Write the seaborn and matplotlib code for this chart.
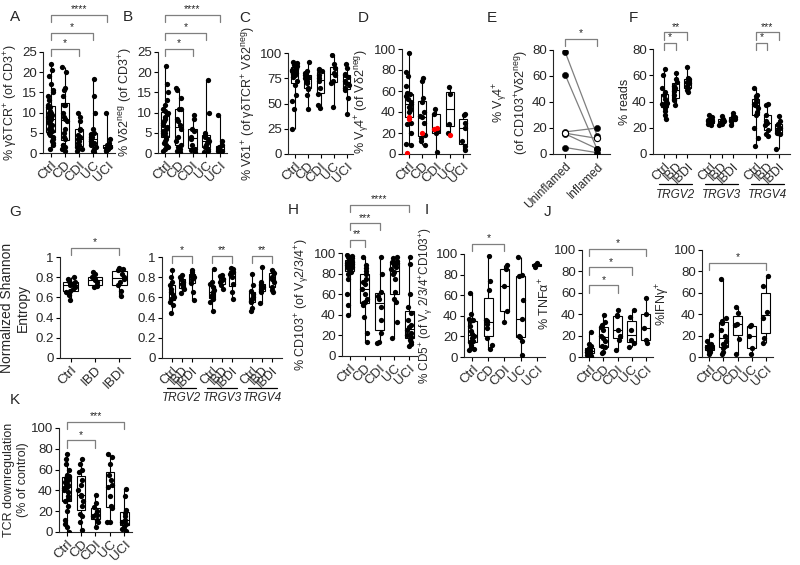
import numpy as np
import pandas as pd
import seaborn as sns
import matplotlib.pyplot as plt

# ---- data ----
dis = ['Ctrl', 'CD', 'CDI', 'UC', 'UCI']
ibd = ['Ctrl', 'IBD', 'IBDI']
genes = ['TRGV2', 'TRGV3', 'TRGV4']

a_gd_tcr = {
    'Ctrl': [22, 20.5, 19, 17, 15.5, 15, 14, 13, 12, 11.5, 11.3, 10.5, 10, 10, 9.5, 9, 9, 8.5, 8, 8,
             7.5, 7, 6.5, 6, 6, 5.5, 5, 5, 4.5, 4, 3.5, 3, 2.5, 2, 1],
    'CD': [21.3, 20, 16, 15.5, 14, 12, 11.8, 10, 9, 8.5, 8, 6, 5, 4, 3.5, 2, 2, 1.5, 1, 0.5],
    'CDI': [10, 9, 8, 6, 5.8, 4.5, 4, 3.5, 3, 2.5, 2, 1.5, 1, 1, 0.5],
    'UC': [18.3, 14, 10, 6, 5, 4.8, 4, 4, 3.5, 3, 3, 2.5, 2, 1.5, 1, 0.5, 0.3],
    'UCI': [10, 3.5, 2.5, 2, 2, 1.8, 1.6, 1.5, 1.4, 1.2, 1.1, 1, 0.8, 0.5],
}
b_vd2neg = {
    'Ctrl': [21.5, 17, 15, 13, 12, 11, 10.5, 10, 9.7, 9, 8.5, 8, 7.5, 7, 6.5, 6, 5.5, 5, 5, 4.5,
             4, 3.5, 3, 2.5, 2, 1.5, 1, 0.5],
    'CD': [16, 15.5, 13.5, 11, 10.8, 8.5, 8, 7, 6, 4, 3, 2, 1.5, 1, 0.5, 0.2],
    'CDI': [9.5, 8.5, 6, 5.5, 4, 3.5, 2, 1, 0.8, 0.3],
    'UC': [18, 10, 5, 4.5, 4, 3.5, 3, 2.5, 2, 1.5, 1, 0.5, 0.2],
    'UCI': [9.3, 3, 2, 1.5, 1.2, 1, 0.8, 0.6, 0.5, 0.4, 0.3],
}
c_vd1 = {
    'Ctrl': [91, 90, 89, 88, 87, 85, 84, 83, 82, 80, 79, 78, 76, 72, 68, 58, 52, 45, 25],
    'CD': [91, 82, 80, 78, 76, 75, 74, 72, 70, 65, 64, 58, 45],
    'CDI': [84, 83, 82, 78, 75, 72, 65, 59, 49, 46],
    'UC': [98, 89, 85, 80, 78, 72, 70, 47],
    'UCI': [89, 85, 79, 78, 76, 72, 70, 68, 65, 63, 55, 40],
}
d_vg4 = {
    'Ctrl': [96, 78, 74, 65, 58, 57, 55, 52, 50, 48, 45, 44, 42, 40, 30, 29, 20, 10, 9],
    'CD': [72, 70, 53, 50, 40, 36, 35, 30, 18, 15, 12, 9],
    'CDI': [43, 38, 22, 20, 2],
    'UC': [64, 57, 29, 20],
    'UCI': [38, 37, 30, 25, 12, 8, 4],
}
d_vg4_red = {'Ctrl': [35, 33, 1], 'CD': [20], 'CDI': [25, 24], 'UC': [18], 'UCI': []}
e_uninflamed = [78.5, 61, 17, 16, 15.5, 5]
e_inflamed = [14, 3.5, 20, 12, 4, 1]
e_open = [False, False, False, True, False, False]
f_reads = {
    'TRGV2': {'Ctrl': [65, 60, 50, 47, 45, 42, 40, 39, 38, 37, 36, 35, 33, 30, 27],
              'IBD': [62, 57, 55, 52, 50, 48, 45, 42, 41, 37],
              'IBDI': [66, 58, 57, 55, 54, 52, 50, 49, 47]},
    'TRGV3': {'Ctrl': [30, 28, 27, 26, 26, 25, 25, 24, 24, 23, 22],
              'IBD': [29, 27, 26, 25, 24, 23, 22],
              'IBDI': [31, 29, 28, 27, 26, 25, 22]},
    'TRGV4': {'Ctrl': [50, 45, 44, 42, 40, 38, 37, 35, 32, 30, 20, 12, 6],
              'IBD': [38, 37, 30, 25, 24, 22, 18, 15, 14],
              'IBDI': [29, 25, 23, 22, 20, 18, 16, 15, 4]},
}
g_entropy = {
    'Ctrl': [0.80, 0.78, 0.76, 0.75, 0.74, 0.73, 0.72, 0.70, 0.68, 0.66, 0.65, 0.62, 0.57],
    'IBD': [0.85, 0.83, 0.80, 0.78, 0.77, 0.75, 0.72, 0.71, 0.70],
    'IBDI': [0.89, 0.88, 0.87, 0.83, 0.80, 0.78, 0.75, 0.72, 0.66, 0.61],
}
g_entropy_genes = {
    'TRGV2': {'Ctrl': [0.87, 0.80, 0.75, 0.72, 0.68, 0.65, 0.62, 0.60, 0.58, 0.55, 0.52, 0.45],
              'IBD': [0.82, 0.80, 0.78, 0.75, 0.73, 0.70, 0.68, 0.64],
              'IBDI': [0.87, 0.85, 0.83, 0.81, 0.80, 0.78, 0.74, 0.65, 0.57]},
    'TRGV3': {'Ctrl': [0.88, 0.75, 0.73, 0.70, 0.67, 0.65, 0.62, 0.60, 0.58, 0.55, 0.47],
              'IBD': [0.82, 0.81, 0.78, 0.77, 0.75, 0.72, 0.68],
              'IBDI': [0.89, 0.88, 0.85, 0.83, 0.80, 0.73, 0.65, 0.58]},
    'TRGV4': {'Ctrl': [0.83, 0.72, 0.66, 0.63, 0.60, 0.58, 0.56, 0.55, 0.50, 0.47],
              'IBD': [0.90, 0.75, 0.73, 0.72, 0.70, 0.68, 0.66, 0.65, 0.54],
              'IBDI': [0.87, 0.85, 0.84, 0.80, 0.78, 0.75, 0.70, 0.67, 0.65]},
}
h_cd103 = {
    'Ctrl': [98, 97, 96, 96, 95, 94, 93, 92, 91, 90, 90, 89, 88, 87, 86, 85, 84, 82, 80, 75, 60, 50, 40],
    'CD': [96, 88, 85, 83, 80, 75, 72, 70, 65, 60, 55, 52, 51, 50, 38, 22, 14],
    'CDI': [96, 80, 62, 58, 55, 48, 35, 22, 14, 13],
    'UC': [96, 95, 92, 91, 90, 88, 86, 84, 82, 80, 75, 62, 55, 52, 33, 17],
    'UCI': [96, 89, 60, 48, 42, 35, 30, 28, 25, 22, 20, 18, 16, 14, 12, 10],
}
i_cd5 = {
    'Ctrl': [62, 42, 37, 36, 35, 30, 25, 22, 20, 18, 16, 15, 12, 10, 8, 7],
    'CD': [98, 74, 65, 36, 35, 32, 28, 18, 12, 8],
    'CDI': [89, 85, 69, 45, 34],
    'UC': [97, 80, 79, 55, 37, 20, 19, 16, 2],
    'UCI': [91, 89, 87],
}
j_tnf = {
    'Ctrl': [23, 12, 10, 9, 8, 7, 7, 6, 6, 5, 5, 4, 3, 2, 1, 0],
    'CD': [39, 33, 30, 28, 25, 20, 18, 15, 10, 9, 5, 4],
    'CDI': [44, 39, 38, 25, 20, 16, 7],
    'UC': [44, 37, 25, 16, 13, 9],
    'UCI': [55, 40, 27, 16, 13],
}
j_ifn = {
    'Ctrl': [21, 15, 12, 11, 10, 9, 9, 8, 7, 6, 5, 3],
    'CD': [73, 36, 34, 32, 25, 20, 15, 12, 10, 8, 5, 3],
    'CDI': [47, 41, 31, 30, 17, 3],
    'UC': [30, 29, 20, 8, 3],
    'UCI': [76, 66, 42, 36, 18, 13],
}
k_tcr = {
    'Ctrl': [75, 70, 65, 60, 55, 54, 53, 52, 50, 48, 46, 45, 43, 42, 40, 38, 35, 32, 30, 25, 20, 12, 8, 5, 0],
    'CD': [70, 65, 60, 58, 50, 45, 40, 36, 35, 30, 25, 17, 15, 10, 2],
    'CDI': [36, 28, 24, 20, 17, 16, 15, 12, 10, 5],
    'UC': [75, 72, 65, 55, 50, 45, 43, 35, 25, 23, 10, 10],
    'UCI': [41, 35, 21, 18, 15, 12, 10, 8, 5, 3, 1],
}

# ---- style ----
sns.set_style('ticks')
plt.rcParams['font.family'] = ['Liberation Sans', 'DejaVu Sans']
plt.rcParams['mathtext.fontset'] = 'custom'
plt.rcParams['mathtext.rm'] = 'Liberation Sans'
plt.rcParams['mathtext.it'] = 'Liberation Sans:italic'
plt.rcParams['axes.linewidth'] = 0.8
np.random.seed(3)

FS_Y = 9.5    # y tick labels
FS_X = 9.5    # x tick labels
FS_LAB = 9    # axis labels
NARROW = ['Liberation Sans Narrow', 'Liberation Sans', 'DejaVu Sans']
GREY = '#7f7f7f'
PT = 3.8


def long_df(data):
    return pd.DataFrame([(g, v) for g in data for v in data[g]], columns=['group', 'value'])


def set_ylab(ax, text, fs=FS_LAB, pad=1):
    ax.set_ylabel(text, fontsize=fs, labelpad=pad, family=NARROW)


def style_ax(ax, ylim, yticks, ylabel, fmt=None, xfs=FS_X):
    ax.set_ylim(*ylim)
    ax.set_yticks(yticks)
    if fmt:
        ax.set_yticklabels([fmt(t) for t in yticks])
    set_ylab(ax, ylabel)
    ax.set_xlabel('')
    sns.despine(ax=ax)
    ax.tick_params(length=3, width=0.8, pad=1.5, color='black')
    ax.tick_params(axis='y', labelsize=FS_Y)
    ax.tick_params(axis='x', labelsize=xfs)
    for lab in ax.get_xticklabels():
        lab.set_rotation(45)
        lab.set_ha('right')
        lab.set_rotation_mode('anchor')


def box_strip(ax, df, order):
    sns.boxplot(data=df, x='group', y='value', order=order, ax=ax, whis=(0, 100), width=0.6,
                showcaps=False, color='white', linecolor='black', linewidth=0.8, fliersize=0)
    sns.stripplot(data=df, x='group', y='value', order=order, ax=ax, color='black',
                  size=PT, jitter=0.2, zorder=3)


def bracket(ax, x1, x2, level, label, drop=0.07):
    tr = ax.get_xaxis_transform()
    ax.plot([x1, x1, x2, x2], [level - drop, level, level, level - drop], transform=tr,
            color=GREY, lw=0.9, clip_on=False)
    ax.text((x1 + x2) / 2, level + 0.005, label, transform=tr, ha='center', va='bottom',
            fontsize=7.5)


def disease_panel(rect, data, ylim, yticks, ylabel, brackets=()):
    ax = fig.add_axes(rect)
    box_strip(ax, long_df(data), dis)
    style_ax(ax, ylim, yticks, ylabel)
    for g, lev, lab in brackets:
        bracket(ax, 0, dis.index(g), lev, lab)
    return ax


def gene_panel(rect, data, ylim, yticks, ylabel, brackets, gene_y, fmt=None):
    ax = fig.add_axes(rect)
    order = []
    for k, gene in enumerate(genes):
        if k:
            order.append(f'gap{k}')
        order += [f'{gene} {g}' for g in ibd]
    df = pd.DataFrame([(f'{gene} {g}', v) for gene in genes for g in ibd for v in data[gene][g]],
                      columns=['group', 'value'])
    box_strip(ax, df, order)
    pos = [i for i, o in enumerate(order) if not o.startswith('gap')]
    ax.set_xticks(pos)
    ax.set_xticklabels([order[i].split()[1] for i in pos])
    style_ax(ax, ylim, yticks, ylabel, fmt, xfs=9)
    tr = ax.get_xaxis_transform()
    for gene in genes:
        i0, i1 = order.index(f'{gene} Ctrl'), order.index(f'{gene} IBDI')
        ax.plot([i0 - 0.45, i1 + 0.45], [gene_y, gene_y], transform=tr, color='black', lw=0.9,
                clip_on=False)
        ax.text((i0 + i1) / 2, gene_y - 0.04, gene, transform=tr, ha='center', va='top',
                fontsize=8.5, style='italic', family=NARROW)
    for gene, g, lev, lab in brackets:
        bracket(ax, order.index(f'{gene} Ctrl'), order.index(f'{gene} {g}'), lev, lab)
    return ax


W, H = 800, 565


def rect(x0, x1, y0, y1):
    return [x0 / W, 1 - y1 / H, (x1 - x0) / W, (y1 - y0) / H]


fig = plt.figure(figsize=(8, 5.65), dpi=100)
neg = r'$^{\mathrm{neg}}$'
plus = r'$^{+}$'
vg = r'V$_{\mathrm{γ}}$'

# A
disease_panel(rect(43, 115, 52, 153), a_gd_tcr, (0, 25), [0, 5, 10, 15, 20, 25],
              f'% γδTCR{plus} (of CD3{plus})',
              [('CDI', 1.03, '*'), ('UC', 1.19, '*'), ('UCI', 1.37, '****')])
# B
disease_panel(rect(158, 227, 52, 153), b_vd2neg, (0, 25), [0, 5, 10, 15, 20, 25],
              f'% Vδ2{neg} (of CD3{plus})',
              [('CDI', 1.03, '*'), ('UC', 1.19, '*'), ('UCI', 1.37, '****')])
# C
disease_panel(rect(288, 353, 53, 154), c_vd1, (0, 100), [0, 25, 50, 75, 100],
              f'% Vδ1{plus} (of γδTCR{plus} Vδ2{neg})')
# D
axd = disease_panel(rect(402, 470, 49, 154), d_vg4, (0, 100), [0, 20, 40, 60, 80, 100],
                    f'% {vg}4{plus} (of Vδ2{neg})')
sns.stripplot(data=long_df(d_vg4_red), x='group', y='value', order=dis, ax=axd, color='red',
              size=PT, jitter=0.17, zorder=4)
axd.set_xlabel('')
set_ylab(axd, f'% {vg}4{plus} (of Vδ2{neg})')

# E
axe = fig.add_axes(rect(553, 610, 50, 154))
conds = ['Uninflamed', 'Inflamed']
e_df = pd.DataFrame({'pair': list(range(len(e_uninflamed))) * 2,
                     'cond': [conds[0]] * len(e_uninflamed) + [conds[1]] * len(e_inflamed),
                     'value': e_uninflamed + e_inflamed,
                     'open': e_open * 2})
sns.lineplot(data=e_df, x='cond', y='value', units='pair', estimator=None, ax=axe,
             color=GREY, lw=0.9, sort=False)
sns.scatterplot(data=e_df[~e_df['open']], x='cond', y='value', ax=axe, color='black', s=20,
                edgecolor='black', zorder=3)
sns.scatterplot(data=e_df[e_df['open']], x='cond', y='value', ax=axe, color='white', s=20,
                edgecolor='black', linewidth=0.8, zorder=3)
axe.set_xlim(-0.38, 1.4)
style_ax(axe, (0, 80), [0, 20, 40, 60, 80], f'% {vg}4{plus}\n(of CD103{plus}Vδ2{neg})', xfs=8.5)
bracket(axe, 0, 1, 1.11, '*')

# F
gene_panel(rect(653, 790, 49, 154), f_reads, (0, 80), [0, 20, 40, 60, 80], '% reads',
           [('TRGV2', 'IBD', 1.06, '*'), ('TRGV2', 'IBDI', 1.16, '**'),
            ('TRGV4', 'IBD', 1.06, '*'), ('TRGV4', 'IBDI', 1.16, '***')], gene_y=-0.29)

# G
fmt_g = lambda t: f'{t:g}'
axg = fig.add_axes(rect(60, 130, 257, 358))
box_strip(axg, long_df(g_entropy), ibd)
style_ax(axg, (0, 1), [0, 0.2, 0.4, 0.6, 0.8, 1], '', fmt_g)
set_ylab(axg, 'Normalized Shannon\nEntropy', fs=10, pad=4)
bracket(axg, 0, 2, 1.09, '*')
gene_panel(rect(162, 282, 257, 358), g_entropy_genes, (0, 1), [0, 0.2, 0.4, 0.6, 0.8, 1], '',
           [('TRGV2', 'IBDI', 1.01, '*'), ('TRGV3', 'IBDI', 1.01, '**'),
            ('TRGV4', 'IBDI', 1.01, '**')], gene_y=-0.3, fmt=fmt_g)

# H
disease_panel(rect(342, 417, 253, 356), h_cd103, (0, 100), [0, 20, 40, 60, 80, 100],
              f'% CD103{plus} (of {vg}2/3/4{plus})',
              [('CD', 1.13, '**'), ('CDI', 1.29, '***'), ('UCI', 1.47, '****')])
# I
axi = disease_panel(rect(464, 545, 254, 357), i_cd5, (0, 100), [0, 20, 40, 60, 80, 100],
                    '', [('CDI', 1.10, '*')])
set_ylab(axi, f'% CD5{plus} (of {vg} 2/3/4{plus}CD103{plus})', fs=8.5, pad=0)
# J
disease_panel(rect(582, 653, 250, 357), j_tnf, (0, 100), [0, 20, 40, 60, 80, 100],
              f'% TNFα{plus}',
              [('CDI', 0.67, '*'), ('UC', 0.84, '*'), ('UCI', 1.01, '*')])
disease_panel(rect(702, 773, 250, 357), j_ifn, (0, 100), [0, 20, 40, 60, 80, 100],
              f'%IFNγ{plus}', [('UCI', 0.88, '*')])
# K
disease_panel(rect(59, 132, 428, 532), k_tcr, (0, 100), [0, 20, 40, 60, 80, 100],
              'TCR downregulation\n(% of control)',
              [('CDI', 0.88, '*'), ('UCI', 1.06, '***')])

for lab, x, y in [('A', 15, 17), ('B', 128, 17), ('C', 245, 18), ('D', 363, 18), ('E', 492, 18),
                  ('F', 633, 18), ('G', 15, 212), ('H', 293, 210), ('I', 427, 210),
                  ('J', 548, 212), ('K', 15, 400)]:
    fig.text(x / W, 1 - y / H, lab, ha='center', va='center', fontsize=11)

fig.savefig('out.png', dpi=100)
